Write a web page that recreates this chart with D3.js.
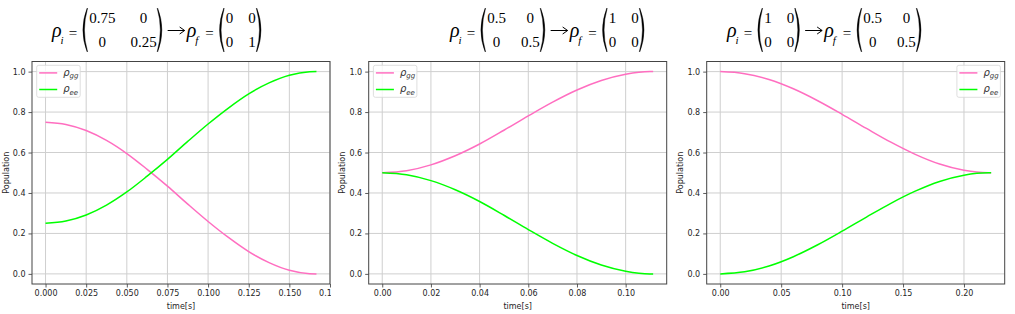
<!DOCTYPE html>
<html>
<head>
<meta charset="utf-8">
<script src="https://cdn.jsdelivr.net/npm/d3@7"></script>
<style>
  body { margin: 0; background: #fff; }
  text { fill: #262626; }
</style>
</head>
<body>
<div id="chart"></div>
<script>
// values (time in s, population)
const time1 = [0, 0.0125, 0.025, 0.0375, 0.05, 0.0625, 0.075, 0.0875, 0.1, 0.1125, 0.125, 0.1375, 0.15, 0.1625, 0.16667];
const gg1 = [0.75, 0.739, 0.709, 0.660, 0.595, 0.517, 0.434, 0.345, 0.259, 0.180, 0.110, 0.056, 0.018, 0.001, 0.0];
const ee1 = [0.25, 0.261, 0.291, 0.340, 0.405, 0.483, 0.566, 0.655, 0.741, 0.820, 0.890, 0.944, 0.982, 0.999, 1.0];

const time2 = [0, 0.01, 0.02, 0.03, 0.04, 0.05, 0.06, 0.07, 0.08, 0.09, 0.10, 0.11, 0.1113];
const gg2 = [0.5, 0.510, 0.539, 0.584, 0.642, 0.710, 0.781, 0.849, 0.909, 0.956, 0.987, 1.0, 1.0];
const ee2 = [0.5, 0.490, 0.461, 0.416, 0.358, 0.290, 0.219, 0.151, 0.091, 0.044, 0.013, 0.0, 0.0];

const time3 = [0, 0.02, 0.04, 0.06, 0.08, 0.10, 0.12, 0.14, 0.16, 0.18, 0.20, 0.22, 0.2223];
const gg3 = [1.0, 0.990, 0.961, 0.915, 0.856, 0.789, 0.719, 0.651, 0.591, 0.543, 0.512, 0.500, 0.5];
const ee3 = [0.0, 0.010, 0.039, 0.085, 0.144, 0.211, 0.281, 0.349, 0.409, 0.457, 0.488, 0.500, 0.5];

const xTicks1 = [0, 0.025, 0.05, 0.075, 0.1, 0.125, 0.15, 0.175];
const xTicks2 = [0, 0.02, 0.04, 0.06, 0.08, 0.10];
const xTicks3 = [0, 0.05, 0.10, 0.15, 0.20];
const yTicks = [0, 0.2, 0.4, 0.6, 0.8, 1.0];

const rhoInit1 = [["0.75", "0"], ["0", "0.25"]], rhoFinal1 = [["0", "0"], ["0", "1"]];
const rhoInit2 = [["0.5", "0"], ["0", "0.5"]], rhoFinal2 = [["1", "0"], ["0", "0"]];
const rhoInit3 = [["1", "0"], ["0", "0"]], rhoFinal3 = [["0.5", "0"], ["0", "0.5"]];

const colGG = "#ff6ec0", colEE = "#00ff00";

const panels = [
  {left: 32, clip: [0, 331], time: time1, gg: gg1, ee: ee1, ticks: xTicks1, fmt: ".3f", legend: "left", eqX: 52, mi: rhoInit1, mf: rhoFinal1},
  {left: 368.7, clip: [333, 668], time: time2, gg: gg2, ee: ee2, ticks: xTicks2, fmt: ".2f", legend: "left", eqX: 450, mi: rhoInit2, mf: rhoFinal2},
  {left: 706.7, clip: [670, 1015], time: time3, gg: gg3, ee: ee3, ticks: xTicks3, fmt: ".2f", legend: "right", eqX: 727, mi: rhoInit3, mf: rhoFinal3}
];

const W = 1015, H = 314;
const axW = 298, axTop = 61.5, axH = 222.5;
const sans = "'DejaVu Sans', sans-serif";
const serif = "'Liberation Serif', 'Times New Roman', serif";

const svg = d3.select("#chart").append("svg")
  .attr("width", W).attr("height", H)
  .style("background", "#fff");

// ---- matrix equation above each plot ----
function put(g, x, y, s, size, italic) {
  const t = g.append("text")
    .attr("x", x).attr("y", y)
    .style("font-family", serif)
    .style("font-size", size + "px")
    .style("font-style", italic ? "italic" : "normal")
    .style("fill", "#000")
    .text(s);
  return t.node().getComputedTextLength();
}

function measure(s, size) {
  const t = svg.append("text").style("font-family", serif).style("font-size", size + "px").text(s);
  const w = t.node().getComputedTextLength();
  t.remove();
  return w;
}

// tapered bracket: thick in the middle, thin at the ends
function paren(g, x, left) {
  const top = 8, bot = 52, mid = (top + bot) / 2, w = 6;
  const d = left
    ? `M${x + w},${top} Q${x - 2.5},${mid} ${x + w},${bot} L${x + w + 0.4},${bot - 0.5} Q${x + 0.2},${mid} ${x + w + 0.4},${top + 0.5} Z`
    : `M${x},${top} Q${x + w + 2.5},${mid} ${x},${bot} L${x - 0.4},${bot - 0.5} Q${x + w - 0.2},${mid} ${x - 0.4},${top + 0.5} Z`;
  g.append("path").attr("d", d).attr("fill", "#000").attr("stroke", "#000").attr("stroke-width", 0.4);
}

function arrow(g, x) {
  const y = 30.5, len = 17;
  g.append("path")
    .attr("d", `M${x},${y} L${x + len},${y} M${x + len - 5},${y - 3.5} L${x + len},${y} L${x + len - 5},${y + 3.5}`)
    .attr("fill", "none").attr("stroke", "#000").attr("stroke-width", 1);
  return len;
}

function matrix(g, x, m) {
  paren(g, x + 1, true);
  x += 9;
  const cw = [0, 1].map(c => d3.max([0, 1], r => measure(m[r][c], 15)));
  const gap = 15;
  [0, 1].forEach(c => {
    [0, 1].forEach(r => {
      const s = m[r][c];
      const cx = x + (c === 0 ? cw[0] / 2 : cw[0] + gap + cw[1] / 2);
      put(g, cx - measure(s, 15) / 2, r === 0 ? 23 : 46.5, s, 15, false);
    });
  });
  x += cw[0] + gap + cw[1];
  paren(g, x + 1, false);
  return x + 9;
}

function rho(g, x, sub) {
  x += put(g, x, 37, "ρ", 20, true);
  x += put(g, x - 1, 44, sub, 11, true);
  return x;
}

function equation(g, x, mi, mf) {
  x = rho(g, x, "i");
  x += 4;
  x += put(g, x, 37.5, "=", 15, false);
  x += 3;
  x = matrix(g, x, mi);
  x += 2;
  x += arrow(g, x);
  x += 2;
  x = rho(g, x, "f");
  x += 6;
  x += put(g, x, 37.5, "=", 15, false);
  x += 3;
  matrix(g, x, mf);
}

// ---- plots ----
panels.forEach((p, i) => {
  const clipId = "clip" + i;
  svg.append("clipPath").attr("id", clipId)
    .append("rect").attr("x", p.clip[0]).attr("y", 0)
    .attr("width", p.clip[1] - p.clip[0]).attr("height", H);

  const root = svg.append("g").attr("clip-path", `url(#${clipId})`);
  equation(root.append("g"), p.eqX, p.mi, p.mf);

  const T = d3.max(p.time);
  const x = d3.scaleLinear().domain([-0.05 * T, 1.05 * T]).range([p.left, p.left + axW]);
  const y = d3.scaleLinear().domain([-0.05, 1.05]).range([axTop + axH, axTop]);

  // grid
  root.append("g").selectAll("line").data(p.ticks.filter(t => t <= 1.05 * T + 1e-9))
    .enter().append("line")
    .attr("x1", d => x(d)).attr("x2", d => x(d))
    .attr("y1", axTop).attr("y2", axTop + axH)
    .attr("stroke", "#cfcfcf").attr("stroke-width", 1);
  root.append("g").selectAll("line").data(yTicks)
    .enter().append("line")
    .attr("x1", p.left).attr("x2", p.left + axW)
    .attr("y1", d => y(d)).attr("y2", d => y(d))
    .attr("stroke", "#cfcfcf").attr("stroke-width", 1);

  // curves
  const line = d3.line().curve(d3.curveMonotoneX)
    .x(d => x(d[0])).y(d => y(d[1]));
  root.append("path").datum(d3.zip(p.time, p.gg))
    .attr("d", line).attr("fill", "none")
    .attr("stroke", colGG).attr("stroke-width", 1.5);
  root.append("path").datum(d3.zip(p.time, p.ee))
    .attr("d", line).attr("fill", "none")
    .attr("stroke", colEE).attr("stroke-width", 1.5);

  // axes
  const xAxis = d3.axisBottom(x).tickValues(p.ticks).tickFormat(d3.format(p.fmt))
    .tickSizeInner(3.5).tickSizeOuter(0).tickPadding(3);
  const yAxis = d3.axisLeft(y).tickValues(yTicks).tickFormat(d3.format(".1f"))
    .tickSizeInner(3.5).tickSizeOuter(0).tickPadding(3);

  const gx = root.append("g")
    .attr("transform", "translate(0," + (axTop + axH) + ")")
    .call(xAxis);
  const gy = root.append("g")
    .attr("transform", "translate(" + p.left + ",0)")
    .call(yAxis);
  [gx, gy].forEach(a => {
    a.select(".domain").remove();
    a.selectAll("line").attr("stroke", "#333").attr("stroke-width", 0.8);
    a.selectAll("text").style("font-family", sans).style("font-size", "8px").style("fill", "#262626");
  });

  // frame
  root.append("rect")
    .attr("x", p.left).attr("y", axTop)
    .attr("width", axW).attr("height", axH)
    .attr("fill", "none").attr("stroke", "#444").attr("stroke-width", 1);

  // axis labels
  root.append("text")
    .attr("x", p.left + axW / 2).attr("y", 309)
    .style("text-anchor", "middle")
    .style("font-family", sans).style("font-size", "8px")
    .text("time[s]");
  root.append("text")
    .attr("transform", "translate(" + (p.left - 23.5) + "," + (axTop + axH / 2) + ") rotate(-90)")
    .style("text-anchor", "middle")
    .style("font-family", sans).style("font-size", "8px")
    .text("Population");

  // legend
  const lw = 43.5, lh = 32;
  const lx = p.legend === "left" ? p.left + 4.7 : p.left + axW - 4.3 - lw;
  const ly = axTop + 3.8;
  const lg = root.append("g").attr("transform", "translate(" + lx + "," + ly + ")");
  lg.append("rect").attr("width", lw).attr("height", lh).attr("rx", 2)
    .attr("fill", "#fff").attr("fill-opacity", 0.8)
    .attr("stroke", "#d6d6d6").attr("stroke-width", 0.8);
  [["gg", colGG], ["ee", colEE]].forEach((e, k) => {
    const ry = 7.6 + k * 16.6;
    lg.append("line").attr("x1", 2.5).attr("x2", 20.5).attr("y1", ry).attr("y2", ry)
      .attr("stroke", e[1]).attr("stroke-width", 1.5);
    const t = lg.append("text").attr("x", 26.5).attr("y", ry + 3)
      .style("font-family", sans).style("font-size", "10px").style("font-style", "italic")
      .style("fill", "#333");
    t.append("tspan").text("ρ");
    t.append("tspan").attr("dy", 2.5).style("font-size", "7px").text(e[0]);
  });
});
</script>
</body>
</html>
